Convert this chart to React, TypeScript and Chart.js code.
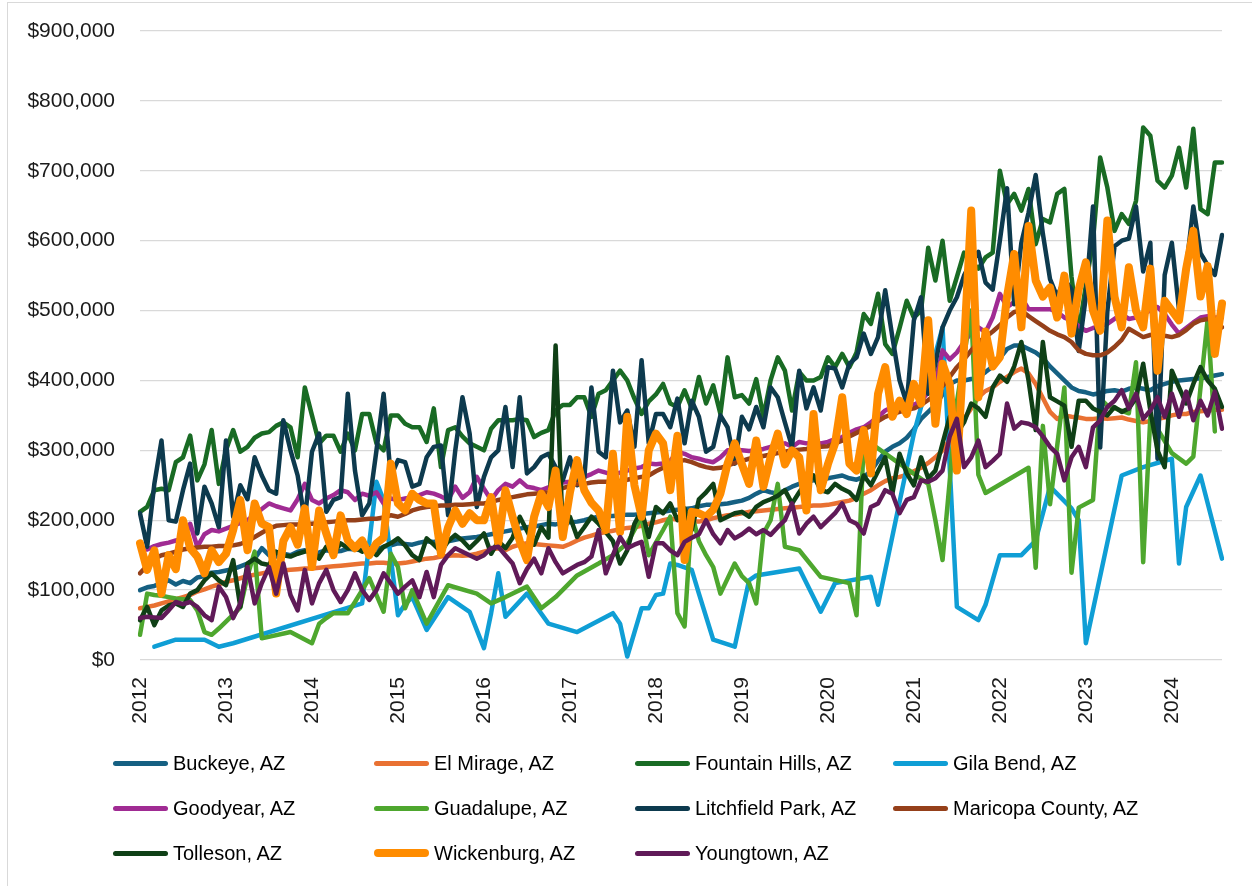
import React, { useEffect, useRef } from 'react';
import { Chart, registerables } from 'chart.js';

Chart.register(...registerables);

const N = null;

// Category axis: one label per month, Jan 2012 .. Aug 2024
const years = ['2012', '2013', '2014', '2015', '2016', '2017', '2018', '2019', '2020', '2021', '2022', '2023', '2024'];
const monthsInLastYear = 8;
const categories: string[] = [];
years.forEach((y, i) => {
  const n = i === years.length - 1 ? monthsInLastYear : 12;
  for (let k = 0; k < n; k++) categories.push(k === 0 ? y : `${y}-${k + 1}`);
});

const yTicks = [0, 100000, 200000, 300000, 400000, 500000, 600000, 700000, 800000, 900000];

// Values in thousands of dollars
const buckeye = [
  100, 104, 106, 110, 114, 108, 113, 110, 118, 120, 125, 126,
  128, 130, 134, 138, 145, 160, 150, 148, 152, 150, 155, 157,
  152, 154, 157, 155, 156, 159, 158, 157, 160, 158, 162, 164,
  167, 166, 165, 168, 170, 169, 171, 170, 172, 174, 175, 176,
  178, 180, 182, 184, 186, 188, 190, 191, 193, 195, 194, 196,
  197, 198, 200, 203, 205, 206, 206, 207, 208, 208, 209, 210,
  211, 212, 214, 215, 216, 217, 220, 222, 222, 223, 224, 226,
  228, 232, 238, 243, 240, 238, 243, 248, 252, 255, 257, 258,
  260, 262, 264, 260, 258, 262, 270, 285, 298, 305, 310, 318,
  330, 345, 355, 365, 380, 395, 400, 400, 402, 405, 412, 420,
  432, 445, 450, 450, 445, 440, 432, 420, 410, 400, 390, 385,
  383, 380, 382, 385, 386, 384, 388, 390, 388, 386, 392, 395,
  398, 400, 401, 402, 403, 405, 407, 409,
];

const elMirage = [
  74, 76, 78, 81, 84, 87, 90, 93, 98, 101, 105, 108,
  112, 114, 117, 120, 122, 124, 126, 127, 128, 129, 130, 131,
  131, 132, 133, 134, 135, 136, 137, 138, 138, 139, 139, 138,
  138, 139, 141, 143, 145, 146, 148, 149, 150, 149, 150, 152,
  155, 158, 160, 157, 162, 165, 167, 166, 165, 164, 163, 162,
  166, 171, 175, 178, 181, 183, 185, 187, 189, 190, 192, 195,
  197, 200, 202, 201, 199, 198, 198, 200, 203, 205, 207, 208,
  210, 212, 213, 214, 215, 216, 217, 218, 219, 220, 221, 221,
  222, 224, 226, 228, 232, 238, 243, 250, 256, 260, 262, 265,
  270, 275, 282, 290, 300, 315, 330, 345, 360, 376, 385, 390,
  398, 405, 412, 417, 410, 395, 375, 355, 345, 350, 348, 347,
  345, 345, 346, 345, 346, 347, 344, 342, 340, 342, 345, 347,
  350, 352, 352, 355, 356, 357, 358, 358,
];

const fountainHills = [
  212, 219, 243, 245, 243, 283, 290, 321, 257, 280, 329, 252,
  300, 329, 298, 305, 318, 324, 326, 335, 340, 333, 290, 390,
  350, 310, 321, 321, 298, 324, 300, 352, 352, 310, 300, 350,
  350, 338, 333, 333, 312, 360, 276, 329, 333, 320, 310, 305,
  300, 331, 343, 343, 343, 345, 343, 319, 325, 329, 357, 365,
  365, 376, 376, 348, 381, 386, 400, 414, 400, 374, 352, 370,
  380, 395, 367, 362, 386, 360, 405, 367, 393, 352, 433, 376,
  379, 367, 402, 348, 400, 433, 414, 357, 412, 400, 400, 405,
  433, 419, 438, 419, 440, 495, 481, 524, 452, 438, 475, 514,
  490, 500, 590, 543, 600, 514, 548, 583, 570, 560, 576, 583,
  700, 652, 667, 643, 674, 595, 631, 626, 667, 674, 548, 470,
  536, 600, 719, 676, 614, 638, 624, 657, 762, 750, 686, 676,
  693, 733, 676, 760, 645, 638, 712, 712,
];

const gilaBend = [
  N, N, 19, N, N, 29, N, N, N, 29, N, 19,
  N, 24, N, N, N, N, N, N, N, N, N, N,
  N, N, N, N, N, N, N, 81, N, 255, 229, N,
  64, 80, 90, N, 43, N, N, 90, N, N, 69, N,
  17, 67, 124, 62, N, N, 95, N, N, 52, N, N,
  N, 40, N, N, N, N, 67, 52, 5, N, 74, 74,
  93, 95, 138, 136, N, 129, 95, N, 29, N, N, 19,
  N, 114, 121, N, N, N, N, N, 131, N, N, 69,
  N, 110, N, N, N, N, 119, 79, N, N, N, N,
  324, N, N, N, 476, N, 76, N, N, 57, 79, N,
  150, N, N, 150, N, 171, N, 248, N, N, 217, 200,
  24, N, N, N, N, 264, N, N, 276, N, N, N,
  288, 138, 219, N, 264, N, N, 145,
];

const goodyear = [
  160, 158, 163, 166, 168, 171, 173, 195, 162, 180, 186, 184,
  188, 192, 196, 200, 208, 216, 224, 220, 217, 214, 230, 252,
  229, 224, 231, 236, 243, 240, 229, 238, 235, 240, 224, 231,
  229, 231, 233, 236, 240, 238, 234, 229, 248, 232, 240, 262,
  245, 229, 243, 252, 248, 257, 248, 246, 243, 247, 250, 254,
  255, 257, 262, 266, 271, 268, 265, 268, 271, 274, 276, 281,
  280, 281, 285, 298, 295, 290, 288, 285, 283, 290, 300, 300,
  300, 299, 300, 302, 305, 308, 310, 305, 312, 310, 309, 310,
  312, 316, 319, 325, 330, 333, 340, 348, 357, 362, 368, 371,
  365, 371, 383, 395, 443, 430, 440, 455, 468, 476, 469, 490,
  524, 505, 512, 519, 502, 502, 502, 502, 498, 490, 486, 478,
  471, 475, 478, 481, 488, 495, 488, 490, 495, 500, 505, 495,
  480, 467, 475, 483, 490, 492, 490, 490,
];

const guadalupe = [
  36, 95, 93, 92, 90, 88, 87, 86, 71, 40, 36, 45,
  55, 65, 75, 120, 155, 31, N, N, N, 40, N, N,
  24, 52, 60, 67, N, 67, 83, 100, 117, N, 69, 152,
  133, 74, 100, N, 52, N, N, 107, N, N, N, 95,
  N, 81, N, 90, N, N, 105, N, 74, N, 90, N,
  N, 121, N, N, 138, N, 150, N, 167, N, 205, 150,
  N, 186, 205, 67, 48, 210, 170, 150, 133, 95, N, 138,
  120, 110, 81, 181, 200, 252, 162, N, 157, N, N, 119,
  N, N, N, 110, 64, 314, 310, N, N, N, 281, N,
  N, N, 252, 200, 143, N, 369, N, 500, 265, 239, N,
  N, N, N, N, 275, 132, 335, 223, N, 390, 125, 218,
  N, 229, 374, 364, N, N, 353, 426, 140, 348, N, N,
  296, N, 281, 291, N, 488, 327, N,
];

const litchfieldPark = [
  210, 162, 252, 314, 200, 198, 243, 281, 181, 248, 224, 190,
  314, 205, 250, 230, 290, 264, 243, 238, 343, 300, 264, 200,
  298, 324, 212, 229, 233, 381, 271, 207, 224, 300, 381, 262,
  286, 283, 248, 252, 290, 305, 307, 207, 300, 376, 324, 219,
  262, 290, 300, 362, 276, 376, 267, 276, 290, 295, 276, 257,
  290, 250, 260, 390, 298, 290, 414, 340, 357, 305, 429, 310,
  352, 352, 333, 374, 310, 371, 348, 298, 305, 350, 333, 281,
  348, 330, 362, 333, 390, 376, 340, 305, 414, 360, 390, 357,
  419, 417, 390, 424, 433, 467, 438, 462, 529, 462, 400, 367,
  486, 519, 381, 424, 476, 500, 519, 550, 570, 584, 540, 530,
  600, 675, 509, 597, 640, 694, 610, 545, 520, 545, 530, 442,
  520, 649, 304, 499, 592, 600, 603, 649, 556, 597, 288, 551,
  597, 501, 560, 649, 582, 565, 551, 608,
];

const maricopaCounty = [
  124, 135, 145, 150, 152, 155, 158, 160, 161, 162, 162, 163,
  163, 164, 166, 170, 176, 182, 188, 192, 193, 194, 194, 195,
  195, 196, 197, 198, 199, 200, 200, 201, 202, 202, 204, 207,
  205, 209, 214, 217, 219, 220, 221, 221, 222, 222, 223, 224,
  224, 226, 229, 231, 233, 235, 237, 238, 239, 240, 243, 246,
  249, 252, 252, 254, 255, 255, 255, 256, 258, 260, 262, 264,
  270, 275, 280, 284, 286, 283, 279, 276, 274, 275, 278, 282,
  285, 288, 290, 292, 294, 296, 298, 300, 301, 302, 304, 305,
  306, 310, 314, 320, 325, 330, 335, 342, 348, 352, 355, 358,
  360, 365, 372, 380, 392, 405, 419, 430, 443, 455, 462, 470,
  479, 490, 498, 500, 492, 485, 478, 471, 466, 462, 455, 443,
  438, 436, 436, 440, 448, 458, 474, 468, 462, 465, 467, 464,
  462, 465, 472, 481, 486, 488, 488, 476,
];

const tolleson = [
  57, 76, 50, 71, 78, 81, 76, 95, 100, 114, 124, 114,
  107, 143, 76, 138, 145, 138, 136, 155, 150, 148, 152, 155,
  160, 145, 162, 152, 167, 160, 162, 155, 160, 150, 162, 167,
  174, 164, 150, 143, 174, 165, 155, 170, 179, 171, 160, 170,
  181, 152, 170, 160, 175, 205, 185, 165, 190, 175, 450, 183,
  205, 176, 190, 205, 195, 183, 170, 138, 157, 195, 214, 176,
  219, 210, 224, 200, 217, 186, 230, 240, 252, 200, 205, 210,
  212, 205, 219, 226, 230, 235, 243, 224, 240, 255, 264, 243,
  240, 252, 245, 240, 229, 264, 250, 270, 290, 238, 295, 267,
  250, 290, 260, 271, 310, 348, 324, 340, 367, 360, 348, 390,
  407, 398, 420, 455, 400, 329, 455, 376, 370, 364, 305, 371,
  371, 360, 355, 350, 362, 355, 360, 375, 424, 357, 300, 276,
  414, 390, 367, 395, 419, 400, 388, 362,
];

const wickenburg = [
  167, 129, 157, 95, 150, 130, 200, 160, 148, 124, 157, 140,
  152, 186, 229, 157, 224, 195, 190, 95, 170, 190, 165, 217,
  133, 214, 181, 150, 207, 171, 160, 171, 150, 167, 175, 281,
  224, 214, 238, 229, 224, 224, 152, 190, 214, 195, 210, 200,
  200, 233, 167, 243, 205, 170, 143, 205, 238, 219, 271, 176,
  240, 286, 243, 225, 214, 186, 295, 183, 348, 250, 205, 300,
  324, 310, 243, 321, 143, 212, 210, 205, 215, 238, 281, 310,
  280, 252, 314, 248, 290, 324, 280, 300, 290, 214, 352, 243,
  280, 310, 376, 281, 271, 329, 267, 381, 419, 348, 371, 352,
  395, 367, 486, 338, 424, 395, 271, 450, 643, 376, 470, 420,
  433, 520, 581, 476, 621, 543, 520, 533, 490, 550, 467, 530,
  569, 500, 471, 629, 520, 476, 562, 500, 476, 560, 414, 514,
  500, 486, 560, 614, 520, 564, 438, 510,
];

const youngtown = [
  60, 62, 61, 60, 71, 83, 80, 83, 76, 64, 57, 105,
  90, 60, 81, 133, 81, 110, 133, 95, 138, 93, 71, 129,
  81, 110, 129, 100, 83, 100, 124, 100, 86, 100, 124, 110,
  95, 105, 114, 90, 126, 90, 136, 150, 160, 155, 150, 145,
  150, 160, 162, 150, 138, 110, 130, 145, 124, 160, 140, 124,
  130, 136, 140, 148, 186, 124, 150, 176, 160, 165, 169, 119,
  167, 167, 157, 150, 169, 175, 180, 200, 180, 167, 186, 174,
  180, 188, 180, 186, 179, 190, 200, 224, 181, 195, 205, 190,
  200, 210, 224, 200, 195, 181, 219, 224, 243, 238, 210, 229,
  233, 257, 255, 260, 271, 320, 345, 276, 290, 314, 276, 285,
  295, 367, 331, 340, 338, 333, 320, 305, 295, 257, 290, 305,
  276, 333, 343, 362, 371, 386, 360, 381, 345, 357, 376, 348,
  381, 348, 384, 343, 371, 350, 384, 331,
];

const seriesNames = [
  'Buckeye, AZ', 'El Mirage, AZ', 'Fountain Hills, AZ', 'Gila Bend, AZ',
  'Goodyear, AZ', 'Guadalupe, AZ', 'Litchfield Park, AZ', 'Maricopa County, AZ',
  'Tolleson, AZ', 'Wickenburg, AZ', 'Youngtown, AZ',
];
const seriesValues = [
  buckeye, elMirage, fountainHills, gilaBend, goodyear, guadalupe,
  litchfieldPark, maricopaCounty, tolleson, wickenburg, youngtown,
];
const seriesColors = [
  '#156082', '#E97132', '#196B24', '#0F9ED5', '#A02B93', '#4EA72E',
  '#0D3A4E', '#95401A', '#0F4016', '#FF8C00', '#601A58',
];
const seriesWidths = [4.5, 4.5, 4.5, 4.5, 4.5, 4.5, 4.5, 4.5, 4.5, 8, 4.5];

const FONT = '"Liberation Sans", Arial, sans-serif';

const legendCols = [173, 434, 695, 953];
const legendRows = [763, 808, 853];

export default function App() {
  const canvasRef = useRef<HTMLCanvasElement | null>(null);

  useEffect(() => {
    if (!canvasRef.current) return;
    const datasets = seriesNames.map((name, i) => ({
      label: name,
      data: seriesValues[i].slice(0, categories.length).map((v) => (v === null ? null : v * 1000)),
      borderColor: seriesColors[i],
      backgroundColor: seriesColors[i],
      borderWidth: seriesWidths[i],
      pointRadius: 0,
      pointHoverRadius: 0,
      tension: 0,
      fill: false,
      spanGaps: true,
      borderCapStyle: 'round' as const,
      borderJoinStyle: 'round' as const,
      order: seriesNames.length - 1 - i,
    }));

    const chart = new Chart(canvasRef.current, {
      type: 'line',
      data: { labels: categories, datasets },
      options: {
        animation: false,
        responsive: false,
        maintainAspectRatio: false,
        devicePixelRatio: 1,
        layout: { padding: { top: 31, right: 30, left: 0, bottom: 0 } },
        plugins: { legend: { display: false }, tooltip: { enabled: false } },
        scales: {
          x: {
            type: 'category',
            grid: { display: false, drawTicks: false },
            border: { display: false },
            ticks: {
              autoSkip: false,
              maxRotation: 90,
              minRotation: 90,
              padding: 17,
              color: '#1a1a1a',
              font: { family: FONT, size: 21 },
              callback: (_v: any, index: number) => {
                const l = categories[index];
                return l && !l.includes('-') ? l : '';
              },
            },
            afterFit: (scale: any) => {
              scale.height = 226;
              scale.paddingLeft = 0;
              scale.paddingRight = 0;
              scale.paddingTop = 0;
              scale.paddingBottom = 0;
            },
          },
          y: {
            min: 0,
            max: 900000,
            afterBuildTicks: (scale: any) => {
              scale.ticks = yTicks.map((v) => ({ value: v }));
            },
            grid: { color: '#d9d9d9', lineWidth: 1.3, drawTicks: false },
            border: { display: false },
            ticks: {
              padding: 25,
              color: '#1a1a1a',
              font: { family: FONT, size: 21 },
              callback: (v: any) => '$' + Number(v).toLocaleString('en-US'),
            },
            afterFit: (scale: any) => {
              scale.width = 140;
              scale.paddingTop = 0;
              scale.paddingBottom = 0;
              scale.paddingLeft = 0;
              scale.paddingRight = 0;
            },
          },
        },
      },
    });
    return () => chart.destroy();
  }, []);

  return (
    <div style={{ position: 'relative', width: 1252, height: 886, overflow: 'hidden', background: '#fff' }}>
      <style>{`html,body{margin:0;padding:0;overflow:hidden;background:#fff;}`}</style>
      <canvas ref={canvasRef} width={1252} height={886} style={{ position: 'absolute', left: 0, top: 0 }} />
      <div
        style={{
          position: 'absolute',
          left: 7,
          top: 2,
          width: 1260,
          height: 900,
          border: '1.5px solid #d9d9d9',
          boxSizing: 'border-box',
          pointerEvents: 'none',
        }}
      />
      {seriesNames.map((name, i) => {
        const col = i % 4;
        const row = Math.floor(i / 4);
        const x = legendCols[col];
        const y = legendRows[row];
        return (
          <div
            key={name}
            style={{
              position: 'absolute',
              left: x - 60,
              top: y - 13,
              height: 26,
              display: 'flex',
              alignItems: 'center',
              whiteSpace: 'nowrap',
            }}
          >
            <span
              style={{
                display: 'inline-block',
                width: 55,
                height: seriesWidths[i] === 8 ? 8 : 5,
                borderRadius: 4,
                background: seriesColors[i],
                marginRight: 5,
              }}
            />
            <span style={{ fontFamily: FONT, fontSize: 20, lineHeight: '26px', color: '#000' }}>{name}</span>
          </div>
        );
      })}
    </div>
  );
}
